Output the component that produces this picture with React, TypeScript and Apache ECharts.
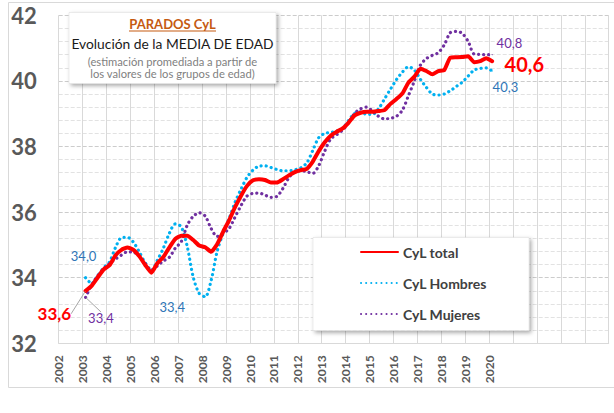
import React, { useEffect, useRef } from "react";
import * as echarts from "echarts";

// Tick labels of the x axis (years), axis range extends a bit further without labels
const yearLabels = ["2002","2003","2004","2005","2006","2007","2008","2009","2010","2011","2012","2013","2014","2015","2016","2017","2018","2019","2020"];
const xMin = 2002;
const xMax = 2025;

// Quarterly series, first quarter 2003 (plotted at mid-quarter positions)
const firstQuarter = 2003.125;
const quarterStep = 0.25;

const cylTotal = [
  33.6, 33.75, 34.0, 34.25,
  34.38, 34.68, 34.85, 34.92,
  34.85, 34.65, 34.38, 34.15,
  34.44, 34.63, 34.92, 35.18,
  35.28, 35.28, 35.15, 34.98,
  34.93, 34.79, 35.02, 35.4,
  35.75, 36.15, 36.5, 36.8,
  36.97, 37.0, 36.98, 36.9,
  36.9, 37.0, 37.12, 37.22,
  37.28, 37.32, 37.54, 37.86,
  38.13, 38.33, 38.45, 38.55,
  38.73, 38.95, 39.03, 39.06,
  39.06, 39.08, 39.11, 39.3,
  39.45, 39.62, 39.95, 40.13,
  40.37, 40.3, 40.2, 40.3,
  40.33, 40.71, 40.72, 40.73,
  40.75, 40.57, 40.6, 40.69,
  40.6,
];

const cylHombres = [
  34.0, 33.83, 34.05, 34.3,
  34.48, 34.92, 35.22, 35.23,
  35.08, 34.78, 34.44, 34.23,
  34.53, 34.9, 35.35, 35.64,
  35.55, 34.95, 34.02, 33.52,
  33.42, 33.92, 34.8, 35.35,
  35.8, 36.3, 36.7, 37.06,
  37.28, 37.4, 37.41, 37.36,
  37.3, 37.26, 37.26, 37.29,
  37.35, 37.5, 37.88, 38.27,
  38.4, 38.43, 38.47, 38.55,
  38.8, 39.01, 39.06, 38.98,
  38.98, 39.15, 39.45, 39.75,
  40.04, 40.27, 40.43, 40.33,
  40.05, 39.8, 39.6, 39.57,
  39.6, 39.7, 39.83, 39.96,
  40.15, 40.33, 40.38, 40.4,
  40.3,
];

const cylMujeres = [
  33.4, 33.78, 34.05, 34.27,
  34.43, 34.57, 34.69, 34.79,
  34.78, 34.65, 34.43, 34.23,
  34.36, 34.51, 34.62, 34.9,
  35.1, 35.6, 35.87, 35.98,
  35.88, 35.5, 35.26, 35.35,
  35.5, 35.85, 36.2, 36.49,
  36.57, 36.58, 36.52, 36.45,
  36.48, 36.72, 37.05, 37.23,
  37.26, 37.23, 37.18, 37.42,
  37.86, 38.23, 38.36, 38.5,
  38.73, 39.01, 39.15, 39.2,
  39.08, 38.92, 38.84, 38.86,
  38.92, 39.11, 39.55, 40.0,
  40.48, 40.68, 40.78, 40.86,
  41.1, 41.47, 41.51, 41.45,
  41.2, 40.82, 40.81, 40.8,
  40.8,
];

const FONT = "Lato, 'Noto Sans', sans-serif";
const RED = "#FF0000";
const CYAN = "#00B0F0";
const PURPLE = "#7030A0";
const BLUE_LABEL = "#2E75B6";

const fmt = (v: number) => v.toFixed(1).replace(".", ",");

type LabelSpec = {
  position: string;
  dx: number;
  dy: number;
  size: number;
  bold?: boolean;
  color: string;
  leader?: boolean;
};

function buildData(values: number[], labels: Record<number, LabelSpec>) {
  return values.map((v, i) => {
    const x = firstQuarter + quarterStep * i;
    const spec = labels[i];
    if (!spec) return [x, v];
    return {
      value: [x, v],
      symbol: "circle",
      symbolSize: 1,
      label: {
        show: true,
        position: spec.position,
        color: spec.color,
        fontSize: spec.size,
        fontWeight: spec.bold ? "bold" : "normal",
        fontFamily: FONT,
        formatter: () => fmt(v),
      },
      labelLine: spec.leader
        ? { show: true, lineStyle: { color: "#a6a6a6", width: 1 } }
        : { show: false },
    };
  });
}

function layoutFrom(labels: Record<number, LabelSpec>) {
  return (p: any) => {
    const s = labels[p.dataIndex];
    if (!s) return {};
    return { dx: s.dx, dy: s.dy };
  };
}

const totalLabels: Record<number, LabelSpec> = {
  0: { position: "left", dx: -9, dy: 23, size: 17, bold: true, color: RED, leader: true },
  [cylTotal.length - 1]: { position: "right", dx: 7, dy: 3, size: 20, bold: true, color: RED },
};
const hombresLabels: Record<number, LabelSpec> = {
  0: { position: "top", dx: -2, dy: -10, size: 13, color: BLUE_LABEL },
  20: { position: "bottom", dx: -33, dy: -2, size: 13, color: BLUE_LABEL },
  [cylHombres.length - 1]: { position: "right", dx: -5, dy: 16, size: 13, color: BLUE_LABEL },
};
const mujeresLabels: Record<number, LabelSpec> = {
  0: { position: "right", dx: -3, dy: 21, size: 13, color: PURPLE, leader: true },
  [cylMujeres.length - 1]: { position: "right", dx: -1, dy: -12, size: 13, color: PURPLE },
};

export default function App() {
  const ref = useRef<HTMLDivElement>(null);

  useEffect(() => {
    if (!ref.current) return;
    const chart = echarts.init(ref.current, undefined, { renderer: "svg" });

    const dotted = [0.1, 5];

    const option: any = {
      animation: false,
      backgroundColor: "#ffffff",
      textStyle: { fontFamily: FONT },
      grid: { left: 58.7, right: 5.3, top: 15.3, bottom: 69.7, containLabel: false },
      xAxis: {
        type: "value",
        min: xMin,
        max: xMax,
        interval: 1,
        axisLine: { show: true, lineStyle: { color: "#d9d9d9", width: 1 } },
        axisTick: { show: false },
        splitLine: { show: true, lineStyle: { color: "#d9d9d9", width: 1 } },
        axisLabel: {
          rotate: 90,
          margin: 12,
          color: "#595959",
          fontWeight: "bold",
          fontSize: 12,
          fontFamily: FONT,
          formatter: (v: number) => (yearLabels.includes(String(v)) ? String(v) : ""),
        },
      },
      yAxis: {
        type: "value",
        min: 32,
        max: 42,
        interval: 2,
        axisLine: { show: false },
        axisTick: { show: false },
        axisLabel: {
          color: "#595959",
          fontWeight: "bold",
          fontSize: 22,
          margin: 22,
          fontFamily: FONT,
          formatter: (v: number) => String(v),
        },
        splitLine: { show: true, lineStyle: { color: "#cccccc", type: "dashed", width: 1 } },
        minorTick: { show: false, splitNumber: 5 },
        minorSplitLine: { show: true, lineStyle: { color: "#e2e2e2", type: "dashed", width: 1 } },
      },
      legend: {
        orient: "vertical",
        left: 360,
        top: 245,
        padding: 0,
        itemWidth: 37,
        itemHeight: 14,
        itemGap: 17,
        data: ["CyL total", "CyL Hombres", "CyL Mujeres"],
        itemStyle: { opacity: 0 },
        textStyle: { color: "#404040", fontWeight: "bold", fontSize: 14, fontFamily: FONT },
        selectedMode: false,
      },
      graphic: [
        {
          type: "rect",
          silent: true,
          z: -1,
          shape: { x: 8.5, y: 2.5, width: 640, height: 385 },
          style: { fill: "none", stroke: "#d9d9d9", lineWidth: 1 },
        },
        {
          type: "rect",
          silent: true,
          z: 10,
          shape: { x: 69, y: 12.5, width: 207, height: 71 },
          style: {
            fill: "#ffffff",
            stroke: "#d9d9d9",
            lineWidth: 0.5,
            shadowBlur: 4,
            shadowOffsetX: 2,
            shadowOffsetY: 2,
            shadowColor: "rgba(0,0,0,0.35)",
          },
        },
        {
          type: "text",
          silent: true,
          z: 11,
          x: 172.5,
          y: 24,
          style: {
            text: "PARADOS CyL",
            fill: "#C55A11",
            font: `bold 13px ${FONT}`,
            textAlign: "center",
            textVerticalAlign: "middle",
          },
        },
        {
          type: "line",
          silent: true,
          z: 11,
          shape: { x1: 129, y1: 31, x2: 216, y2: 31 },
          style: { stroke: "#C55A11", lineWidth: 1.2 },
        },
        {
          type: "text",
          silent: true,
          z: 11,
          x: 172.5,
          y: 43,
          style: {
            text: "Evolución de la MEDIA DE EDAD",
            fill: "#1a1a1a",
            font: `13.8px ${FONT}`,
            textAlign: "center",
            textVerticalAlign: "middle",
          },
        },
        {
          type: "text",
          silent: true,
          z: 11,
          x: 172.5,
          y: 61,
          style: {
            text: "(estimación promediada a partir de",
            fill: "#7f7f7f",
            font: `11.2px ${FONT}`,
            textAlign: "center",
            textVerticalAlign: "middle",
          },
        },
        {
          type: "text",
          silent: true,
          z: 11,
          x: 172.5,
          y: 73,
          style: {
            text: "los valores de los grupos de edad)",
            fill: "#7f7f7f",
            font: `11.2px ${FONT}`,
            textAlign: "center",
            textVerticalAlign: "middle",
          },
        },
        {
          type: "rect",
          silent: true,
          z: 3,
          shape: { x: 313, y: 237.5, width: 216, height: 93 },
          style: {
            fill: "#ffffff",
            stroke: "#d9d9d9",
            lineWidth: 0.5,
            shadowBlur: 4,
            shadowOffsetX: 2,
            shadowOffsetY: 2,
            shadowColor: "rgba(0,0,0,0.35)",
          },
        },
      ],
      series: [
        {
          type: "line",
          name: "CyL Hombres",
          data: buildData(cylHombres, hombresLabels),
          symbol: "none",
          showSymbol: true,
          smooth: 0.3,
          z: 2,
          itemStyle: { color: CYAN },
          lineStyle: { color: CYAN, width: 3.2, type: dotted, cap: "round" },
          labelLayout: layoutFrom(hombresLabels),
        },
        {
          type: "line",
          name: "CyL Mujeres",
          data: buildData(cylMujeres, mujeresLabels),
          symbol: "none",
          showSymbol: true,
          smooth: 0.3,
          z: 2,
          itemStyle: { color: PURPLE },
          lineStyle: { color: PURPLE, width: 3.2, type: dotted, cap: "round" },
          labelLayout: layoutFrom(mujeresLabels),
        },
        {
          type: "line",
          name: "CyL total",
          data: buildData(cylTotal, totalLabels),
          symbol: "none",
          showSymbol: true,
          smooth: 0.15,
          z: 2,
          itemStyle: { color: RED },
          lineStyle: { color: RED, width: 4, cap: "round", join: "round" },
          labelLayout: layoutFrom(totalLabels),
        },
      ],
    };

    chart.setOption(option);
    return () => chart.dispose();
  }, []);

  return (
    <div
      ref={ref}
      style={{ position: "absolute", left: 0, top: 0, width: 614, height: 413, background: "#fff" }}
    />
  );
}
